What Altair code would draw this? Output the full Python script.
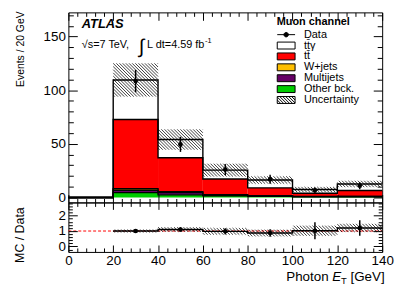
import altair as alt
import numpy as np
import pandas as pd

# ---------------- data ----------------
TTG = "tt\u0304\u03b3"
TT = "tt\u0304"
entries = ["Data", TTG, TT, "W+jets", "Multijets", "Other bck.", "Uncertainty"]
entry_colors = ["black", "white", "#ff0000", "#ffbf00", "#660066", "#00cc00", "white"]

bin_lo = [20, 40, 60, 80, 100, 120]
bin_hi = [40, 60, 80, 100, 120, 140]
edges = [0, 20, 40, 60, 80, 100, 120, 140]

other_bck = [4.5, 2.5, 1.5, 1.0, 0.6, 0.6]
multijets = [2.2, 2.0, 0.6, 0.3, 0.2, 0.3]
wjets = [1.5, 1.0, 0.5, 0.3, 0.2, 0.2]
ttbar = [64.5, 31.5, 14.6, 7.4, 3.0, 5.4]
ttgamma = [36.8, 17.0, 8.3, 7.3, 3.4, 6.1]
mc_unc = [15.5, 9.5, 6.0, 3.5, 2.5, 3.0]

data_val = [108.5, 49.5, 26.0, 17.0, 6.8, 11.0]
data_err = [10.4, 7.0, 5.1, 4.1, 2.6, 3.3]

ratio_val = [1.0, 1.1, 0.98, 0.87, 1.02, 1.2]
ratio_err = [0.1, 0.14, 0.2, 0.25, 0.55, 0.5]
ratio_unc = [0.1, 0.15, 0.22, 0.22, 0.33, 0.27]

y_tick_labels = [0, 50, 100, 150]
x_tick_labels = [0, 20, 40, 60, 80, 100, 120, 140]
r_tick_labels = [0, 1, 2]

# ---------------- layout / style ----------------
FONT = "Liberation Sans"
W, H, HR = 317, 192, 50
X_DOM = [0, 140]
Y_DOM = [-4.6, 172.5]
R_DOM = [-0.36, 2.86]
XS = W / (X_DOM[1] - X_DOM[0])
YS = H / (Y_DOM[1] - Y_DOM[0])
RS = HR / (R_DOM[1] - R_DOM[0])

xsc = alt.Scale(domain=X_DOM, nice=False, zero=False)
ysc = alt.Scale(domain=Y_DOM, nice=False, zero=False)
rsc = alt.Scale(domain=R_DOM, nice=False, zero=False)


def hatch(x0s, x1s, y0s, y1s, xs, ys, step=3.2):
    rows = []
    for x0, x1, y0, y1 in zip(x0s, x1s, y0s, y1s):
        w = (x1 - x0) * xs
        h = (y1 - y0) * ys
        c = step / 2
        while c < w + h:
            u1, u2 = max(0.0, c - h), min(w, c)
            rows.append(dict(hx=x0 + u1 / xs, hy=y0 + (c - u1) / ys,
                             hx2=x0 + u2 / xs, hy2=y0 + (c - u2) / ys))
            c += step
    return pd.DataFrame(rows)


def tick_axis(orient, offset, values, major_test, big, small):
    return alt.Axis(orient=orient, offset=offset, values=values, labels=False, domain=False,
                    grid=False, title=None, ticks=True, tickColor="black", tickWidth=1,
                    tickSize=big,
                    tickDash={"condition": {"test": major_test, "value": [40, 1]},
                              "value": [small, 40]},
                    zindex=3)


def label_axis(orient, values, pad):
    return alt.Axis(orient=orient, values=values, ticks=False, tickSize=0, domain=False,
                    grid=False, labelFont=FONT, labelFontSize=13.5, labelColor="black",
                    labelPadding=pad, labelFlush=False, labelOverlap=False, title=None,
                    minExtent=26 if orient == "left" else 0,
                    maxExtent=26 if orient == "left" else 200)


y_minor = list(range(0, 171, 10))
x_minor = list(range(0, 141, 4))
r_minor = [round(v, 1) for v in np.arange(-0.2, 2.81, 0.2)]
Y_MAJ = "datum.value % 50 === 0"
X_MAJ = "datum.value % 20 === 0"
R_MAJ = "abs(datum.value - round(datum.value)) < 0.01"

# ---------------- frames ----------------
stack_order = [("Other bck.", other_bck), ("Multijets", multijets), ("W+jets", wjets),
               (TT, ttbar), (TTG, ttgamma)]
rect_rows, line_rows = [], []
cum = np.zeros(len(bin_lo))
for name, vals in stack_order:
    base = cum.copy()
    cum = cum + np.array(vals)
    for j in range(len(bin_lo)):
        rect_rows.append(dict(entry=name, lo=bin_lo[j], hi=bin_hi[j], base=base[j], top=cum[j]))
    ys_ = [0.0] + list(cum) + [cum[-1]]
    for e, yv in zip(edges, ys_):
        line_rows.append(dict(comp=name, x=e, y=yv))
total = cum
rect_df = pd.DataFrame(rect_rows)
line_df = pd.DataFrame(line_rows)
hatch_main = hatch(bin_lo, bin_hi, total - np.array(mc_unc), total + np.array(mc_unc), XS, YS)

centers = [(a + b) / 2 for a, b in zip(bin_lo, bin_hi)]
pts_df = pd.DataFrame(dict(x=centers, y=data_val,
                           lo=np.array(data_val) - np.array(data_err),
                           hi=np.array(data_val) + np.array(data_err)))

rv = np.array(ratio_val)
hatch_ratio = hatch(bin_lo, bin_hi, rv - np.array(ratio_unc), rv + np.array(ratio_unc), XS, RS)
rline_df = pd.DataFrame(dict(x=bin_lo + [bin_hi[-1]], y=ratio_val + [ratio_val[-1]]))
rpts_df = pd.DataFrame(dict(x=centers, y=ratio_val, lo=rv - np.array(ratio_err),
                            hi=rv + np.array(ratio_err)))

# legend symbols (custom paths)
RECT = "M-1.8,-0.7L1.8,-0.7L1.8,0.7L-1.8,0.7Z"
DATA_SYM = "M-1.8,0L1.8,0M-0.45,0A0.45,0.45 0 1,0 0.45,0A0.45,0.45 0 1,0 -0.45,0Z"
hp = RECT
k = -2.4
while k < 2.5:
    xa, xb = max(-1.8, -0.7 - k), min(1.8, 0.7 - k)
    if xb > xa:
        hp += f"M{xa:.2f},{xa + k:.2f}L{xb:.2f},{xb + k:.2f}"
    k += 0.6
shape_range = [DATA_SYM, RECT, RECT, RECT, RECT, RECT, hp]

leg = alt.Legend(title="Muon channel", orient="none", legendX=210.5, legendY=4, padding=0,
                 titleFont=FONT, titleFontSize=11, titleFontWeight="bold", titleColor="black",
                 titlePadding=2, labelFont=FONT, labelFontSize=11, labelColor="black",
                 labelOffset=12.5, symbolOffset=4, rowPadding=-1, symbolSize=100,
                 symbolStrokeWidth=1, symbolOpacity=1)

one = pd.DataFrame({"a": [0]})


def txt(text, x, y, size, align="left", baseline="alphabetic", **kw):
    return alt.Chart(one).mark_text(text=text, font=FONT, fontSize=size, align=align,
                                    baseline=baseline, color="black", **kw).encode(
        x=alt.value(x), y=alt.value(y))


# ---------------- main panel ----------------
leg_df = pd.DataFrame(dict(entry=entries, x=[-50] * len(entries), y=[-50] * len(entries)))
legend_layer = alt.Chart(leg_df).mark_point(filled=True, stroke="black", strokeWidth=1,
                                             opacity=1, clip=True).encode(
    x=alt.X("x:Q", scale=xsc, axis=None),
    y=alt.Y("y:Q", scale=ysc, axis=None),
    fill=alt.Fill("entry:N", scale=alt.Scale(domain=entries, range=entry_colors), legend=leg),
    shape=alt.Shape("entry:N", scale=alt.Scale(domain=entries, range=shape_range), legend=leg),
)

rects = alt.Chart(rect_df).mark_rect().encode(
    x=alt.X("lo:Q", scale=xsc, axis=tick_axis("bottom", -H, x_minor, X_MAJ, 8, 4)),
    x2="hi:Q",
    y=alt.Y("base:Q", scale=ysc, axis=label_axis("left", y_tick_labels, 3)),
    y2="top:Q",
    color=alt.Color("entry:N", scale=alt.Scale(domain=entries, range=entry_colors), legend=None),
)

lines = alt.Chart(line_df).mark_line(interpolate="step-after", color="black", strokeWidth=1.4).encode(
    x=alt.X("x:Q", scale=xsc, axis=tick_axis("top", -H, x_minor, X_MAJ, 8, 4)),
    y=alt.Y("y:Q", scale=ysc, axis=tick_axis("right", -W, y_minor, Y_MAJ, 9, 5)),
    detail="comp:N",
)

hatch_m = alt.Chart(hatch_main).mark_rule(color="black", strokeWidth=0.75).encode(
    x=alt.X("hx:Q", scale=xsc, axis=None),
    x2="hx2:Q",
    y=alt.Y("hy:Q", scale=ysc, axis=tick_axis("left", -W, y_minor, Y_MAJ, 9, 5)),
    y2="hy2:Q",
)

err_m = alt.Chart(pts_df).mark_rule(color="black", strokeWidth=1.5).encode(
    x=alt.X("x:Q", scale=xsc, axis=None),
    y=alt.Y("lo:Q", scale=ysc, axis=None),
    y2="hi:Q",
)
pts_m = alt.Chart(pts_df).mark_point(filled=True, color="black", size=22, opacity=1).encode(
    x=alt.X("x:Q", scale=xsc, axis=None),
    y=alt.Y("y:Q", scale=ysc, axis=None),
)

TX = -44.5
texts_main = [
    txt("Events /  20 GeV", TX, -1, 10.5, align="right", angle=270),
    txt("ATLAS", 13.5, 16, 13, fontWeight="bold", fontStyle="italic"),
    txt("\u221as=7 TeV,", 13.5, 36, 11),
    txt("\u222b", 71, 41, 20),
    txt("L dt=4.59 fb", 79.5, 36, 11),
    txt("-1", 138, 31, 7.5),
]

main = alt.layer(legend_layer, rects, lines, hatch_m, err_m, pts_m, *texts_main).resolve_axis(
    x="independent", y="independent").properties(width=W, height=H)

# ---------------- ratio panel ----------------
ref_df = pd.DataFrame(dict(x0=[X_DOM[0]], x1=[X_DOM[1]], one=[1.0]))
ref_line = alt.Chart(ref_df).mark_rule(color="red", strokeDash=[3, 2], strokeWidth=1).encode(
    x=alt.X("x0:Q", scale=xsc, axis=label_axis("bottom", x_tick_labels, 1.5)),
    x2="x1:Q",
    y=alt.Y("one:Q", scale=rsc, axis=label_axis("left", r_tick_labels, 3)),
)

hatch_r = alt.Chart(hatch_ratio).mark_rule(color="black", strokeWidth=0.75).encode(
    x=alt.X("hx:Q", scale=xsc, axis=tick_axis("bottom", -HR, x_minor, X_MAJ, 7, 4)),
    x2="hx2:Q",
    y=alt.Y("hy:Q", scale=rsc, axis=tick_axis("right", -W, r_minor, R_MAJ, 9, 4)),
    y2="hy2:Q",
)

rline = alt.Chart(rline_df).mark_line(interpolate="step-after", color="black", strokeWidth=1.4).encode(
    x=alt.X("x:Q", scale=xsc, axis=tick_axis("top", -HR, x_minor, X_MAJ, 7, 4)),
    y=alt.Y("y:Q", scale=rsc, axis=tick_axis("left", -W, r_minor, R_MAJ, 9, 4)),
)

err_r = alt.Chart(rpts_df).mark_rule(color="black", strokeWidth=1.5).encode(
    x=alt.X("x:Q", scale=xsc, axis=None),
    y=alt.Y("lo:Q", scale=rsc, axis=None),
    y2="hi:Q",
)
pts_r = alt.Chart(rpts_df).mark_point(filled=True, color="black", size=22, opacity=1).encode(
    x=alt.X("x:Q", scale=xsc, axis=None),
    y=alt.Y("y:Q", scale=rsc, axis=None),
)

R = W + 2.5
TY = 79
texts_ratio = [
    txt("MC / Data", TX, 33, 12.5, align="center", angle=270),
    txt("[GeV]", R, TY, 13.5, align="right"),
    txt("T", R - 38.3, TY + 3, 9.5, align="right"),
    txt("E", R - 43.9, TY, 13.5, align="right", fontStyle="italic"),
    txt("Photon", R - 56.6, TY, 13.5, align="right"),
]

ratio = alt.layer(ref_line, hatch_r, rline, err_r, pts_r, *texts_ratio).resolve_axis(
    x="independent", y="independent").properties(width=W, height=HR)

chart = alt.vconcat(main, ratio, spacing=0, bounds="flush").properties(
    padding={"left": 6, "top": 1, "right": 5, "bottom": 0}, background="white"
).configure_view(stroke="black", strokeWidth=1)

chart.save("out.html", embed_options={"renderer": "svg", "actions": False})
